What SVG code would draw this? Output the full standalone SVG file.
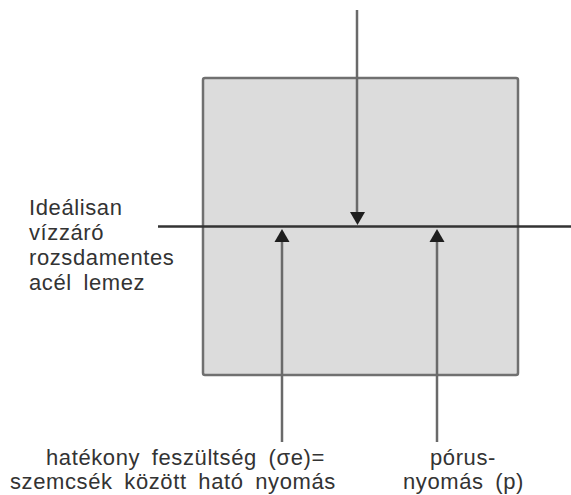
<svg xmlns="http://www.w3.org/2000/svg" width="571" height="495" viewBox="0 0 571 495">
<style>
text{font-family:"Liberation Sans",Arial,sans-serif;font-size:22px;fill:#333;letter-spacing:0.6px;word-spacing:5px}
.stem{stroke:#6a6a6a;stroke-width:2.5;fill:none}
.head{fill:#1e1e1e}
</style>
<rect width="571" height="495" fill="#fff"/>
<g id="block">
<rect x="203" y="78" width="315" height="297" rx="2" fill="#dcdcdc" stroke="#707070" stroke-width="2.5"/>
</g>
<g id="plate">
<line x1="158" y1="226.5" x2="571" y2="226.5" stroke="#333" stroke-width="2.5"/>
</g>
<g id="connectors">
<line class="stem" x1="357" y1="10" x2="357" y2="214"/>
<polygon class="head" points="350,212 365,212 357.5,225"/>
<line class="stem" x1="282" y1="240" x2="282" y2="442"/>
<polygon class="head" points="274.5,242 289.5,242 282,229"/>
<line class="stem" x1="437" y1="240" x2="437" y2="442"/>
<polygon class="head" points="429.5,242 444.5,242 437,229"/>
</g>
<g id="label-plate">
<text x="29" y="215">Ideálisan</text>
<text x="29" y="240">vízzáró</text>
<text x="29" y="265">rozsdamentes</text>
<text x="29" y="290">acél lemez</text>
</g>
<g id="label-effective">
<text x="46" y="465">hatékony feszültség (σe)=</text>
<text x="10" y="489">szemcsék között ható nyomás</text>
</g>
<g id="label-pore">
<text x="430" y="465">pórus-</text>
<text x="403" y="489">nyomás (p)</text>
</g>
</svg>
